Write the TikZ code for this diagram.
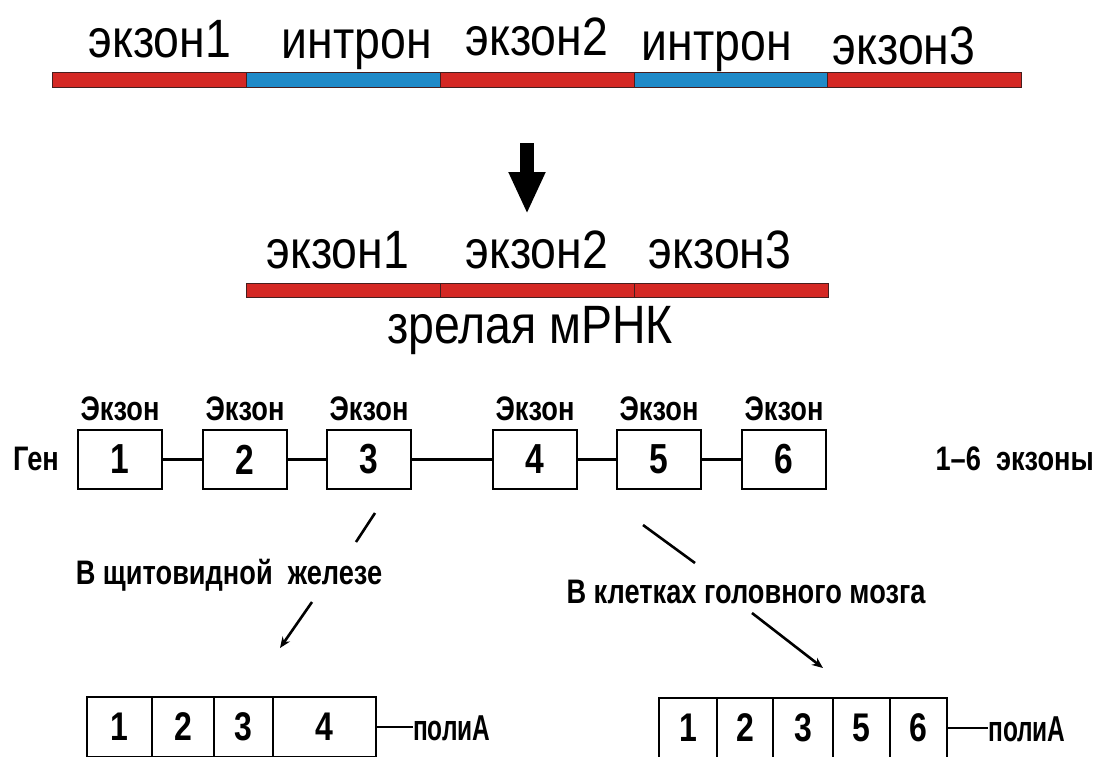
\documentclass[tikz,border=0pt]{standalone}
\usepackage{fontspec}
\setmainfont{Liberation Sans}
\newfontfamily\topf[FakeStretch=0.86]{Liberation Sans}
\newfontfamily\botf[FakeStretch=0.8]{Liberation Sans}
\newfontfamily\polyf[FakeStretch=0.68]{Liberation Sans}
\usetikzlibrary{arrows.meta}
\definecolor{exred}{RGB}{212,40,36}
\definecolor{inblue}{RGB}{32,138,200}
\definecolor{edge}{RGB}{70,30,30}
\tikzset{
  toplbl/.style={anchor=base,inner sep=0pt,font=\topf\fontsize{54}{58}\selectfont},
  blbl/.style={anchor=base,inner sep=0pt,font=\botf\bfseries\fontsize{34}{38}\selectfont},
  polylbl/.style={anchor=base west,inner sep=0pt,font=\polyf\bfseries\fontsize{36}{38}\selectfont},
  genebox/.style={draw,line width=2.6pt,minimum width=84pt,minimum height=59pt,inner sep=0pt,font=\botf\bfseries\fontsize{42}{44}\selectfont},
  cell/.style={draw,line width=2.3pt,minimum height=60pt,inner sep=0pt,font=\botf\bfseries\fontsize{40}{42}\selectfont},
  link/.style={line width=2.6pt},
  ptr/.style={line width=2.6pt,-{Stealth[length=11pt,width=9pt]}},
  seg/.style={draw=edge,line width=0.8pt}
}
\begin{document}
\begin{tikzpicture}[x=1pt,y=-1pt]
\useasboundingbox (0,0) rectangle (1107,756);
\clip (0,0) rectangle (1107,756);
% top pre-mRNA bar
\fill[exred,seg] (52,72) rectangle (246,87);
\fill[inblue,seg] (246,72) rectangle (440,87);
\fill[exred,seg] (440,72) rectangle (634,87);
\fill[inblue,seg] (634,72) rectangle (827,87);
\fill[exred,seg] (827,72) rectangle (1021,87);
\node[toplbl] (t1) at (160,57) {экзон1};
\node[toplbl] (t2) at (357,58) {интрон};
\node[toplbl] (t3) at (537,55) {экзон2};
\node[toplbl] (t4) at (717,60) {интрон};
\node[toplbl] (t5) at (904,64) {экзон3};
% big arrow
\coordinate (aS) at (527,143);
\coordinate (aE) at (527,214);
\draw[line width=14pt,-{Triangle[length=42pt 0 0,width=34pt 0 0]}] (aS) -- (aE);
% mature mRNA
\fill[exred,seg] (246,283) rectangle (440,297);
\fill[exred,seg] (440,283) rectangle (634,297);
\fill[exred,seg] (634,283) rectangle (828,297);
\node[toplbl] (m1) at (338,268) {экзон1};
\node[toplbl] (m2) at (537,268) {экзон2};
\node[toplbl] (m3) at (720,268) {экзон3};
\node[toplbl] (mr) at (530,343) {зрелая мРНК};
% gene
\node[blbl] (gen) at (36,470) {Ген};
\foreach \i/\x in {1/120,2/245,3/369,4/535,5/659,6/784}{
  \node[genebox] (g\i) at (\x,459.5) {\i};
  \node[blbl] (e\i) at (\x,420) {Экзон};
}
\draw[link] (g1) -- (g2);
\draw[link] (g2) -- (g3);
\draw[link] (g3) -- (g4);
\draw[link] (g4) -- (g5);
\draw[link] (g5) -- (g6);
\node[blbl,anchor=base east] (ex) at (1094,470) {1–6\ \ экзоны};
% thyroid branch
\coordinate (s1a) at (375,513);
\coordinate (s1b) at (356,542);
\draw[link] (s1a) -- (s1b);
\node[blbl] (thy) at (229,584) {В щитовидной\ \ железе};
\coordinate (p1a) at (312,602);
\coordinate (p1b) at (280,648);
\draw[ptr] (p1a) -- (p1b);
% brain branch
\coordinate (s2a) at (643,525);
\coordinate (s2b) at (695,563);
\draw[link] (s2a) -- (s2b);
\node[blbl] (brn) at (746,603) {В клетках головного мозга};
\coordinate (p2a) at (752,613);
\coordinate (p2b) at (823,668);
\draw[ptr] (p2a) -- (p2b);
% left mRNA
\node[cell,minimum width=65pt] (l1) at (119.5,727) {1};
\node[cell,minimum width=62pt] (l2) at (183,727) {2};
\node[cell,minimum width=59pt] (l3) at (243.5,727) {3};
\node[cell,minimum width=103pt] (l4) at (324.5,727) {4};
\node[polylbl] (pa1) at (413,740) {полиА};
\draw[link] (l4.east) -- (pa1.west |- l4.east);
% right mRNA
\node[cell,minimum width=58pt] (r1) at (688,728) {1};
\node[cell,minimum width=56pt] (r2) at (745,728) {2};
\node[cell,minimum width=60pt] (r3) at (803,728) {3};
\node[cell,minimum width=57pt] (r4) at (861.5,728) {5};
\node[cell,minimum width=57pt] (r5) at (918.5,728) {6};
\node[polylbl] (pa2) at (988,741) {полиА};
\draw[link] (r5.east) -- (pa2.west |- r5.east);
\end{tikzpicture}
\end{document}
